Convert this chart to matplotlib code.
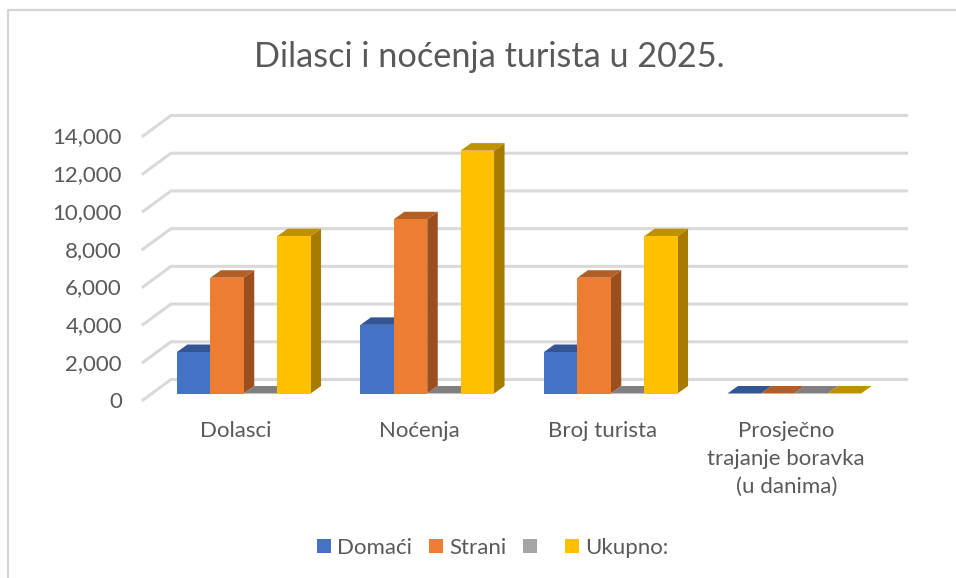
#!/usr/bin/env python3
from matplotlib import pyplot as plt
from matplotlib.patches import Patch, Polygon
from matplotlib.lines import Line2D
from matplotlib.transforms import ScaledTranslation

categories = ['Dolasci', 'Noćenja', 'Broj turista', 'Prosječno\ntrajanje boravka\n(u danima)']
series_names = ['Domaći', 'Strani', ' ', 'Ukupno:']
domaci = [2200, 3640, 2200, 0]
strani = [6140, 9240, 6140, 0]
sivi = [0, 0, 0, 0]
ukupno = [8340, 12880, 8340, 0]
y_ticks = [0, 2000, 4000, 6000, 8000, 10000, 12000, 14000]

front_colors = ['#4472C4', '#ED7D31', '#A5A5A5', '#FFC000']
top_colors = ['#335593', '#B25E25', '#808080', '#BF9000']
side_colors = ['#2A4677', '#9C4F1E', '#666666', '#A67C00']

W, H = 956, 578
plt.rcParams['font.family'] = ['Lato', 'DejaVu Sans']
TEXT = '#595959'
GRID = '#D9D9D9'

fig = plt.figure(figsize=(W / 100, H / 100), dpi=100)
# os u pikselima: ravnina prednje strane stupaca
left, right, top, bottom = 152, 886, 129.5, 393.5
ax = fig.add_axes([left / W, 1 - bottom / H, (right - left) / W, (bottom - top) / H])
ax.set_xlim(-0.5, 3.5)
ax.set_ylim(0, 14000)
for s in ax.spines.values():
    s.set_visible(False)
ax.patch.set_visible(False)

px_x = 4 / (right - left)
px_y = 14000 / (bottom - top)

# okvir grafikona: samo lijevo i gore
fig.add_artist(Line2D([8 / W, 8 / W, 1], [0, 1 - 10 / H, 1 - 10 / H],
                      color='#D4D4D4', lw=1.6))

# mreža s dubinom
for v in y_ticks:
    ax.plot([-0.5 - 9 * px_x, -0.5 + 19 * px_x, 3.5 + 20.5 * px_x],
            [v - 6.5 * px_y, v + 14 * px_y, v + 14 * px_y],
            color=GRID, lw=2.2, clip_on=False, zorder=1, solid_joinstyle='miter')

# stupci: bočna strana, vrh pa prednja strana
bar_w = 33.4 / 183.5
dx, dy = 10.5 * px_x, 7.5 * px_y
for i, vals in enumerate([domaci, strani, sivi, ukupno]):
    xs = [c + (i - 2) * bar_w for c in range(len(categories))]
    for x, v in zip(xs, vals):
        x1 = x + bar_w
        ax.add_patch(Polygon([(x1, 0), (x1 + dx, dy), (x1 + dx, v + dy), (x1, v)],
                             fc=side_colors[i], ec='none', clip_on=False, zorder=2 + i))
        ax.add_patch(Polygon([(x, v), (x + dx, v + dy), (x1 + dx, v + dy), (x1, v)],
                             fc=top_colors[i], ec='none', clip_on=False, zorder=2 + i))
    ax.bar(xs, vals, width=bar_w, align='edge', color=front_colors[i],
           edgecolor='none', clip_on=False, zorder=2.5 + i)

# oznake osi
ax.set_yticks(y_ticks, [f'{v:,}' for v in y_ticks])
ax.set_xticks(range(len(categories)), categories)
ax.tick_params(axis='y', length=0, pad=21.6, labelsize=16, labelcolor=TEXT)
ax.tick_params(axis='x', length=0, pad=20, labelsize=16, labelcolor=TEXT)
shift_y = ScaledTranslation(0, -6 / 100, fig.dpi_scale_trans)
shift_x = ScaledTranslation(-8 / 100, 0, fig.dpi_scale_trans)
for t in ax.get_yticklabels():
    t.set_transform(t.get_transform() + shift_y)
for t in ax.get_xticklabels():
    t.set_transform(t.get_transform() + shift_x)
    t.set_linespacing(1.5)

fig.text(489 / W, 1 - 57 / H, 'Dilasci i noćenja turista u 2025.', fontsize=24.7,
         color=TEXT, ha='center', va='center')

handles = [Patch(fc=c, ec='none') for c in front_colors]
fig.legend(handles, series_names, ncol=4, loc='center', bbox_to_anchor=(493 / W, 1 - 548 / H),
           frameon=False, fontsize=16, labelcolor=TEXT, handlelength=0.63, handleheight=0.63,
           handletextpad=0.27, columnspacing=0.75, borderpad=0, borderaxespad=0)

fig.savefig('out.png', dpi=100)
